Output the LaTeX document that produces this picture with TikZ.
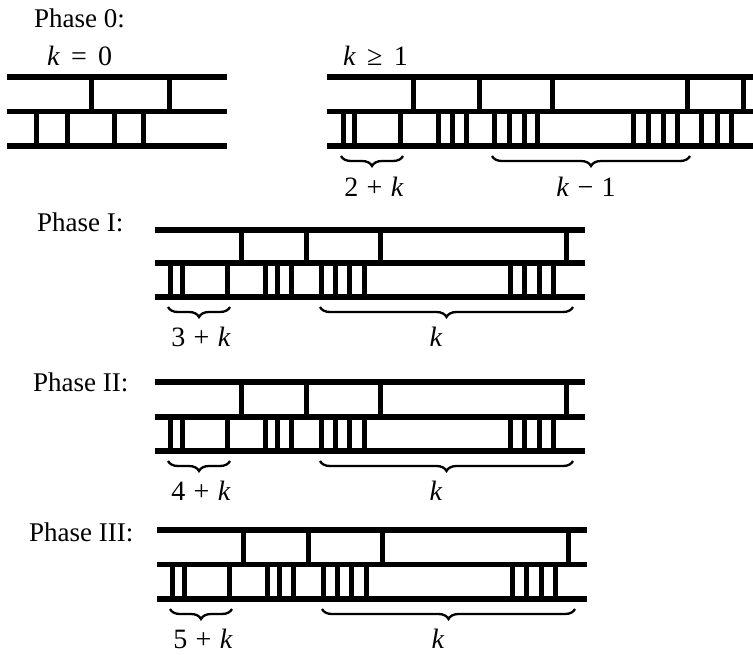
\documentclass[tikz,border=0pt]{standalone}
\usepackage{fontspec}
\setmainfont{Liberation Serif}
\usetikzlibrary{decorations.pathreplacing}
% spacing around binary signs in the labels
\newcommand{\opsp}{\hspace{0.3em}}
\newcommand{\relsp}{\hspace{0.4em}}
\begin{document}
\begin{tikzpicture}[x=1pt,y=-1pt,
  rail/.style={line width=5.4pt},
  post/.style={line width=5pt},
  bracket/.style={decorate,decoration={brace,mirror,amplitude=10pt},line width=2.3pt},
  lbl/.style={font=\fontsize{28}{32}\selectfont,inner sep=0pt,anchor=base},
  head/.style={font=\fontsize{27}{32}\selectfont,inner sep=0pt,anchor=base west},
]
\useasboundingbox (0,0) rectangle (753,654);

% ---------- Phase 0 ----------
\node[head] (h0) at (34,27) {Phase 0:};
\node[head,font=\fontsize{28}{32}\selectfont] (kz) at (47,65) {\textit{k}\relsp=\relsp0};
\node[head,font=\fontsize{28}{32}\selectfont] (kg) at (343,65) {\textit{k}\relsp≥\relsp1};

% k = 0
\def\ya{77}\def\yb{111.5}\def\yc{146}
\draw[rail] (7,\ya) -- (227,\ya) (7,\yb) -- (227,\yb) (7,\yc) -- (227,\yc);
\foreach \x in {91,169} \draw[post] (\x,\ya) -- (\x,\yb);
\foreach \x in {36,67,114,143} \draw[post] (\x,\yb) -- (\x,\yc);

% k >= 1
\draw[rail] (327,\ya) -- (753,\ya) (327,\yb) -- (753,\yb) (327,\yc) -- (753,\yc);
\foreach \x in {413,479,552,687,743} \draw[post] (\x,\ya) -- (\x,\yb);
\foreach \x in {343,354,400,438,452,466,494,509,524,537,633,648,663,677,701,717,731}
  \draw[post] (\x,\yb) -- (\x,\yc);
\coordinate (b0a) at (341,\yc+10); \coordinate (b0b) at (403,\yc+10);
\coordinate (b0c) at (492,\yc+10); \coordinate (b0d) at (690,\yc+10);
\draw[bracket] (b0a) -- (b0b);
\draw[bracket] (b0c) -- (b0d);
\node[lbl] (l0a) at (374,\yc+50) {2\opsp+\opsp\textit{k}};
\node[lbl] (l0b) at (586,\yc+50) {\textit{k}\opsp−\opsp1};

% ---------- Phases I--III (same layout, shifted) ----------
\foreach \name/\dx/\ya/\yb/\yc/\tx/\ty/\num in {
    I/0/230/263/297/37/231/3,
    II/0/382/417/451/33/391/4,
    III/2/530/564.5/599/29/541/5} {
  \node[head] (h\name) at (\tx,\ty) {Phase \name:};
  \begin{scope}[xshift=\dx]
    \draw[rail] (155,\ya) -- (585,\ya) (155,\yb) -- (585,\yb) (155,\yc) -- (585,\yc);
    \foreach \x in {241,306,380,566} \draw[post] (\x,\ya) -- (\x,\yb);
    \foreach \x in {170,182,227,265,277,291,321,335,349,364,510,524,539,553}
      \draw[post] (\x,\yb) -- (\x,\yc);
    \coordinate (ba\name) at (168,\yc+10); \coordinate (bb\name) at (230,\yc+10);
    \coordinate (bc\name) at (320,\yc+10); \coordinate (bd\name) at (573,\yc+10);
    \draw[bracket] (ba\name) -- (bb\name);
    \draw[bracket] (bc\name) -- (bd\name);
    \node[lbl] (la\name) at (201,\yc+49) {\num\opsp+\opsp\textit{k}};
    \node[lbl] (lb\name) at (436,\yc+49) {\textit{k}};
  \end{scope}
}
\end{tikzpicture}
\end{document}
